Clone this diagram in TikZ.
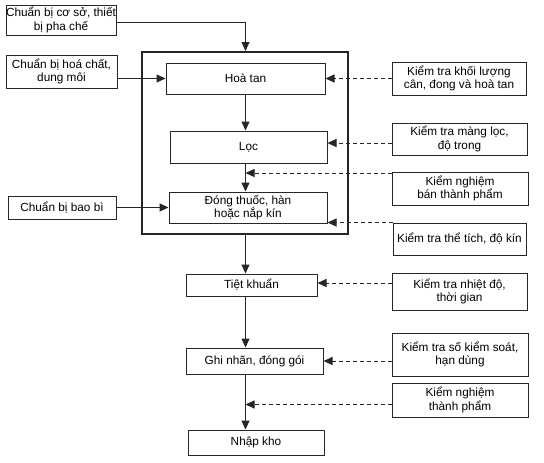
\documentclass[tikz,border=0pt]{standalone}
\usepackage{fontspec}
\setmainfont{Liberation Sans}
\usetikzlibrary{arrows.meta,calc}
\begin{document}
\begin{tikzpicture}[x=1pt,y=-1pt,
  box/.style={draw=black!85, line width=1pt, align=center, inner sep=0pt,
    font=\fontsize{11.8}{13.5}\selectfont},
  frame/.style={draw=black!85, line width=2pt, inner sep=0pt},
  flow/.style={line width=1pt, draw=black!85, -{Triangle[length=9pt,width=8pt]}},
  chk/.style={flow, dash pattern=on 4pt off 3pt}]
\useasboundingbox (0,0) rectangle (544,463);

% main frame
\node[frame, minimum width=206pt, minimum height=182pt] (big) at (245,143) {};
\coordinate (ax) at (245.5,0);

% left preparation boxes
\node[box, minimum width=110pt, minimum height=30pt] (a1) at (61,20) {Chuẩn bị cơ sở, thiết\\bị pha chế};
\node[box, minimum width=111pt, minimum height=33pt] (a2) at (61.5,71.5) {Chuẩn bị hoá chất,\\dung môi};
\node[box, minimum width=108pt, minimum height=23pt] (a3) at (62,207.5) {Chuẩn bị bao bì};

% process boxes
\node[box, minimum width=159pt, minimum height=31pt] (h) at (245.5,78.5) {Hoà tan};
\node[box, minimum width=157pt, minimum height=32pt] (l) at (248.5,147) {Lọc};
\node[box, minimum width=158pt, minimum height=31pt] (d) at (248,207.5) {Đóng thuốc, hàn\\hoặc nắp kín};
\node[box, minimum width=131pt, minimum height=22pt] (t) at (251.5,285) {Tiệt khuẩn};
\node[box, minimum width=137pt, minimum height=26pt] (g) at (254.5,361) {Ghi nhãn, đóng gói};
\node[box, minimum width=136pt, minimum height=25pt] (n) at (256,442.5) {Nhập kho};

% control boxes
\node[box, minimum width=134pt, minimum height=33pt] (r1) at (459,78.5) {Kiểm tra khối lượng\\cân, đong và hoà tan};
\node[box, minimum width=135pt, minimum height=32pt] (r2) at (459.5,139) {Kiểm tra màng lọc,\\độ trong};
\node[box, minimum width=136pt, minimum height=33pt] (r3) at (460,188.5) {Kiểm nghiệm\\bán thành phẩm};
\node[box, minimum width=133pt, minimum height=32pt] (r4) at (459.5,239) {Kiểm tra thể tích, độ kín};
\node[box, minimum width=135pt, minimum height=37pt] (r5) at (459.5,291.5) {Kiểm tra nhiệt độ,\\thời gian};
\node[box, minimum width=136pt, minimum height=43pt] (r6) at (460,354.5) {Kiểm tra số kiểm soát,\\hạn dùng};
\node[box, minimum width=136pt, minimum height=34pt] (r7) at (460,400) {Kiểm nghiệm\\thành phẩm};

% inputs
\draw[flow] ($(a1.east)+(0,2)$) -| (ax |- big.north);
\draw[flow] (a2.east |- h.west) -- (h.west);
\draw[flow] (a3.east) -- (d.west);

% main flow
\draw[flow] (ax |- h.south) -- (ax |- l.north);
\draw[flow] (ax |- l.south) -- (ax |- d.north);
\draw[flow] (ax |- big.south) -- (ax |- t.north);
\draw[flow] (ax |- t.south) -- (ax |- g.north);
\draw[flow] (ax |- g.south) -- (ax |- n.north);

% controls
\coordinate (c2) at (0,143);
\coordinate (c3) at (0,173);
\coordinate (c4) at (0,222.5);
\coordinate (c5) at (0,283);
\coordinate (c7) at (0,404.5);
\draw[chk] (r1.west) -- (h.east);
\draw[chk] (r2.west |- c2) -- (l.east |- c2);
\draw[chk] (r3.west |- c3) -- (ax |- c3);
\draw[chk] (r4.west |- c4) -- (d.east |- c4);
\draw[chk] (r5.west |- c5) -- (t.east |- c5);
\draw[chk] (r6.west |- g.east) -- (g.east);
\draw[chk] (r7.west |- c7) -- (ax |- c7);
\end{tikzpicture}
\end{document}
